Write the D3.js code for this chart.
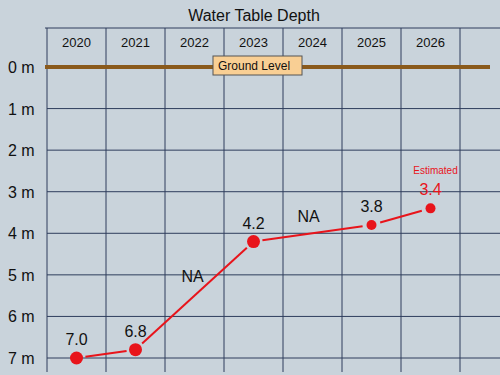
<!DOCTYPE html>
<html>
<head>
<meta charset="utf-8">
<script src="https://cdn.jsdelivr.net/npm/d3@7"></script>
<style>
  body { margin: 0; background: #c9d3db; }
  svg { display: block; font-family: "Liberation Sans", Arial, sans-serif; }
</style>
</head>
<body>
<div id="chart"></div>
<script>
// Data
const years = ["2020", "2021", "2022", "2023", "2024", "2025", "2026"];
const depthTicks = [0, 1, 2, 3, 4, 5, 6, 7];
const measuredYears = ["2020", "2021", "2023", "2025", "2026"];
const depths = [7.0, 6.8, 4.2, 3.8, 3.4];
const gapLabels = ["", "NA", "NA", ""]; // label on segment i -> i+1

const width = 500, height = 375;

const svg = d3.select("#chart").append("svg")
    .attr("width", width)
    .attr("height", height);

svg.append("rect").attr("width", width).attr("height", height).attr("fill", "#c9d3db");

const x = d3.scaleBand().domain(years).range([47, 460]);
const y = d3.scaleLinear().domain([0, 7]).range([67, 358]);

const gridColor = "#2e3d5c";

// Title
svg.append("text")
    .attr("x", 254).attr("y", 21)
    .attr("text-anchor", "middle")
    .attr("font-size", 16)
    .attr("fill", "#111")
    .text("Water Table Depth");

// top rule
svg.append("line")
    .attr("x1", 45).attr("x2", 500)
    .attr("y1", 28).attr("y2", 28)
    .attr("stroke", gridColor).attr("stroke-width", 1);

// vertical grid lines
const vLines = years.map(d => x(d)).concat([x.range()[1]]);
svg.append("g").selectAll("line")
    .data(vLines)
    .join("line")
    .attr("x1", d => d).attr("x2", d => d)
    .attr("y1", 28).attr("y2", 372)
    .attr("stroke", gridColor).attr("stroke-width", 1);

// horizontal grid lines
svg.append("g").selectAll("line")
    .data(depthTicks.filter(d => d > 0))
    .join("line")
    .attr("x1", 47).attr("x2", 500)
    .attr("y1", d => y(d)).attr("y2", d => y(d))
    .attr("stroke", gridColor).attr("stroke-width", 1);

// year labels
svg.append("g").selectAll("text")
    .data(years)
    .join("text")
    .attr("x", d => x(d) + x.bandwidth() / 2)
    .attr("y", 47)
    .attr("text-anchor", "middle")
    .attr("font-size", 13)
    .attr("fill", "#111")
    .text(d => d);

// depth labels
svg.append("g").selectAll("text")
    .data(depthTicks)
    .join("text")
    .attr("x", 8)
    .attr("y", d => y(d) + 6)
    .attr("font-size", 16)
    .attr("fill", "#111")
    .text(d => d + " m");

// ground level
svg.append("line")
    .attr("x1", 45).attr("x2", 490)
    .attr("y1", y(0)).attr("y2", y(0))
    .attr("stroke", "#8a5a1c").attr("stroke-width", 4);

svg.append("rect")
    .attr("x", 213).attr("y", 56)
    .attr("width", 89).attr("height", 19)
    .attr("fill", "#f9cf94")
    .attr("stroke", "#555").attr("stroke-width", 1);
svg.append("text")
    .attr("x", 218).attr("y", 70)
    .attr("font-size", 12)
    .attr("fill", "#111")
    .text("Ground Level");

// series
const pts = measuredYears.map((yr, i) => ({
    x: x(yr) + x.bandwidth() / 2,
    y: y(depths[i]),
    v: depths[i]
}));

const red = "#e8141b";
const gap = 9;
const segs = d3.pairs(pts).map(([a, b], i) => {
    const dx = b.x - a.x, dy = b.y - a.y;
    const len = Math.hypot(dx, dy);
    const ux = dx / len, uy = dy / len;
    return {
        x1: a.x + ux * gap, y1: a.y + uy * gap,
        x2: b.x - ux * gap, y2: b.y - uy * gap,
        mx: (a.x + b.x) / 2, my: (a.y + b.y) / 2,
        label: gapLabels[i]
    };
});

svg.append("g").selectAll("line")
    .data(segs)
    .join("line")
    .attr("x1", d => d.x1).attr("y1", d => d.y1)
    .attr("x2", d => d.x2).attr("y2", d => d.y2)
    .attr("stroke", red).attr("stroke-width", 2);

svg.append("g").selectAll("text")
    .data(segs.filter(d => d.label))
    .join("text")
    .attr("x", (d, i) => i === 0 ? d.mx - 2 : d.mx - 4)
    .attr("y", (d, i) => i === 0 ? d.my - 14 : d.my - 11)
    .attr("text-anchor", "middle")
    .attr("font-size", 16)
    .attr("fill", "#111")
    .text(d => d.label);

svg.append("g").selectAll("circle")
    .data(pts)
    .join("circle")
    .attr("cx", d => d.x).attr("cy", d => d.y)
    .attr("r", (d, i) => i >= 3 ? 5 : 6.5)
    .attr("fill", red);

svg.append("g").selectAll("text")
    .data(pts)
    .join("text")
    .attr("x", d => d.x)
    .attr("y", d => d.y - 13)
    .attr("text-anchor", "middle")
    .attr("font-size", 16)
    .attr("fill", (d, i) => i === pts.length - 1 ? red : "#111")
    .text(d => d.v.toFixed(1));

const last = pts[pts.length - 1];
svg.append("text")
    .attr("x", last.x + 5)
    .attr("y", last.y - 34)
    .attr("text-anchor", "middle")
    .attr("font-size", 10)
    .attr("fill", red)
    .text("Estimated");
</script>
</body>
</html>
